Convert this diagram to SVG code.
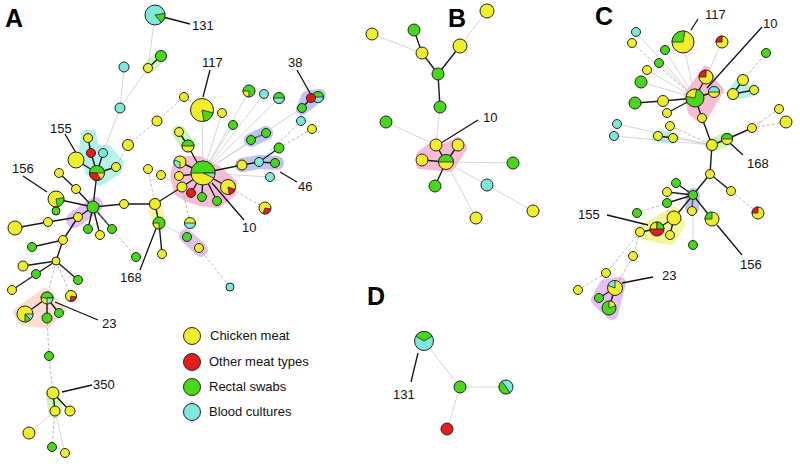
<svg xmlns="http://www.w3.org/2000/svg" width="800" height="470" viewBox="0 0 800 470">
<style>
.n{stroke:#222;stroke-width:1}
.w{stroke:#222;stroke-width:0.8}
.o{fill:none;stroke:#222;stroke-width:1}
.y{fill:#eeee2a}
.r{fill:#e81c1c}
.g{fill:#48d81a}
.c{fill:#80e8d8}
.e{stroke:#1a1a1a;stroke-width:1.4;fill:none}
.l{stroke:#cccccc;stroke-width:0.8;fill:none}
.d{stroke:#a8a8a8;stroke-width:0.8;stroke-dasharray:3 2;fill:none}
.ld{stroke:#111;stroke-width:1.3;fill:none}
.gl{stroke-linejoin:round;stroke-linecap:round;opacity:0.75}
.pk{fill:#f6a8c8;stroke:#f6a8c8}
.cy{fill:#9ceee4;stroke:#9ceee4}
.bl{fill:#aab0ec;stroke:#aab0ec}
.pu{fill:#dcaaf0;stroke:#dcaaf0}
.gr{fill:#bcf4a0;stroke:#bcf4a0}
.ye{fill:#f2f27c;stroke:#f2f27c}
.sa{fill:#fad2c4;stroke:#fad2c4}
.lab{font-family:"Liberation Sans",Arial,sans-serif;font-size:13px;fill:#111}
.pl{font-family:"Liberation Sans",Arial,sans-serif;font-size:25px;font-weight:900;fill:#000}
.lg{font-family:"Liberation Sans",Arial,sans-serif;font-size:13px;fill:#111}
</style>
<rect width="800" height="470" fill="#fff"/>

<g id="glows">
<path class="gl pk" stroke-width="8" d="M178 160 L200 160 L218 170 L233 183 L232 193 L218 204 L200 202 L188 198 L178 192 L174 176 Z"/>
<path class="gl cy" stroke-width="6" d="M84 133 L93 133 L96 148 L108 148 L121 163 L118 172 L100 183 L88 172 L82 150 Z"/>
<path class="gl bl" stroke-width="12" d="M307 97 L320 95 L302 109 Z"/>
<path class="gl bl" stroke-width="14" fill="none" d="M251 140 L266 133"/>
<path class="gl bl" stroke-width="14" fill="none" d="M242 165 L259 162 L277 163"/>
<path class="gl pu" stroke-width="16" fill="none" d="M74 220 L95 205"/>
<path class="gl pu" stroke-width="14" fill="none" d="M186 236 L201 250"/>
<path class="gl gr" stroke-width="14" fill="none" d="M179 132 L188 146"/>
<path class="gl gr" stroke-width="12" fill="none" d="M148 68 L161 56"/>
<path class="gl gr" stroke-width="14" fill="none" d="M53 393 L55 411"/>
<path class="gl ye" stroke-width="14" fill="none" d="M155 204 L159 223"/>
<path class="gl sa" stroke-width="8" d="M17 312 L45 292 L62 310 L47 324 L22 322 Z"/>
<path class="gl pk" stroke-width="8" d="M420 155 L436 143 L440 150 L458 141 L463 148 L450 168 L420 165 Z"/>
<path class="gl pk" stroke-width="8" d="M706 70 L714 84 L720 90 L702 120 L692 112 L688 95 Z"/>
<path class="gl cy" stroke-width="12" fill="none" d="M743 80 L733 94 L754 90"/>
<path class="gl gr" stroke-width="14" fill="none" d="M712 145 L727 139"/>
<path class="gl cy" stroke-width="12" fill="none" d="M658 136 L673 138"/>
<path class="gl bl" stroke-width="14" fill="none" d="M693 195 L692 208"/>
<path class="gl ye" stroke-width="10" d="M638 232 L674 212 L680 225 L670 240 L650 236 Z"/>
<path class="gl pu" stroke-width="12" d="M605 285 L620 283 L612 314 L597 300 Z"/>
</g>

<g id="connectors">
<path class="e" d="M161 56L148 68M203 173L180 162M203 173L179 176M203 173L182 187M203 173L191 193M203 173L202 197M203 173L217 201M203 173L228 187M203 173L242 165M203 173L188 146M188 146L179 132M242 165L259 162M259 162L275 163M259 162L279 148M251 140L266 133M312 97L317 97M312 97L302 108M182 187L155 204M155 204L124 204M124 204L93 207M155 204L159 223M159 223L162 254M93 207L97 173M97 173L91 153M97 173L103 153M97 173L116 167M97 173L76 160M91 153L88 138M93 207L76 189M76 189L59 173M93 207L56 199M56 199L56 211M93 207L78 217M78 217L48 222M48 222L15 228M93 207L88 229M93 207L100 235M93 207L112 229M78 217L63 240M63 240L32 247M63 240L56 261M56 261L23 266M56 261L36 274M56 261L78 280M56 261L12 290M47 298L25 314M47 298L47 318M47 298L59 313M53 393L55 411M53 393L70 411"/>
<path class="l" d="M203 173L202 110M203 173L222 113M203 173L233 125M203 173L249 91M203 173L264 94M203 173L279 98M203 173L302 108M203 173L251 140M203 173L270 177M155 15L148 68M124 67L120 108M148 68L120 108M120 108L103 153M159 223L187 237M187 237L199 248M161 175L182 187M55 411L29 433M55 411L65 453"/>
<path class="d" d="M202 110L184 97M184 97L157 121M157 121L128 145M128 145L116 167M301 121L259 162M312 129L279 148M148 169L155 204M190 223L182 187M265 208L228 187M199 248L230 287M93 207L136 257M56 261L47 298M56 261L71 296M47 318L49 356M49 356L53 393M55 411L52 447"/>
<path class="e" d="M414 30L422 53M422 53L438 74M460 46L438 74M438 74L440 107M446 162L436 145M446 162L458 145M446 162L422 160M446 162L435 186"/>
<path class="l" d="M487 11L460 46M372 34L422 53M440 107L436 145M386 122L436 145M446 162L513 163M446 162L487 185M487 185L533 211M446 162L476 218"/>
<path class="e" d="M695 98L663 101M663 101L635 103M695 98L667 113M695 98L706 77M695 98L714 92M695 98L702 118M702 118L712 145M712 145L727 139M727 139L752 128M733 94L754 90M733 94L743 80M658 136L673 138M712 145L710 174M710 174L693 195M710 174L731 191M693 195L676 183M693 195L667 192M693 195L667 203M693 195L692 211M693 195L712 219M693 195L674 218M674 218L657 229M674 218L670 235M657 229L640 232M615 288L599 298M615 288L609 308"/>
<path class="l" d="M695 98L683 42M695 98L636 32M695 98L665 50M695 98L659 63M695 98L647 70M695 98L641 82M706 77L722 42M714 92L733 94M617 124L712 145M614 136L712 145M673 138L712 145M693 195L693 245"/>
<path class="d" d="M695 98L632 43M743 80L766 53M752 128L779 109M752 128L786 122M670 126L712 145M731 191L758 213M637 213L667 203M633 256L615 288M640 232L633 256M640 232L606 273M606 273L578 290"/>
<path class="l" d="M424 341L460 387M460 387L506 387M460 387L447 429"/>
</g>

<g id="leaders">
<path class="ld" d="M163 17L190 24M210 70L203 97M297 70L310 93M65 134L76 153M23 176L47 192M280 172L297 182M212 183L244 220M140 270L157 226M55 302L98 320M62 392L92 385M478 120L441 143M698 19L691 30M762 27L707 88M730 143L743 155M607 215L648 225M717 225L742 255M653 277L622 283M418 353L411 382"/>
</g>

<g id="panelA">
<g id="a131"><circle class="n c" cx="155" cy="15" r="10"/><path class="w g" d="M155 15L164.85 13.26A10 10 0 0 1 161.43 22.66Z"/></g>
<g id="a-g1"><circle class="n g" cx="161" cy="56" r="5.5"/></g>
<g id="a-y1"><circle class="n y" cx="148" cy="68" r="4.5"/></g>
<g id="a-c1"><circle class="n c" cx="124" cy="67" r="5"/></g>
<g id="a-c2"><circle class="n c" cx="120" cy="108" r="5"/></g>
<g id="a-y2"><circle class="n y" cx="184" cy="97" r="4.5"/></g>
<g id="a-y3"><circle class="n y" cx="157" cy="121" r="5"/></g>
<g id="a-y4"><circle class="n y" cx="128" cy="145" r="5.5"/></g>
<g id="a117"><circle class="n y" cx="202" cy="110" r="11.5"/><path class="w g" d="M202 110L213.11 112.98A11.5 11.5 0 0 1 204 121.33Z"/></g>
<g id="a-y5"><circle class="n y" cx="222" cy="113" r="4.5"/></g>
<g id="a-g2"><circle class="n g" cx="233" cy="125" r="4.5"/></g>
<g id="a-p1"><circle class="n g" cx="249" cy="91" r="6"/><path class="w y" d="M249 91L249 97A6 6 0 0 1 243 91Z"/></g>
<g id="a-c3"><circle class="n c" cx="264" cy="94" r="4.5"/></g>
<g id="a-p2"><circle class="n g" cx="279" cy="98" r="5.5"/><path class="w c" d="M284.5 98A5.5 5.5 0 0 1 273.5 98Z"/></g>
<g id="a38"><circle class="n g" cx="318" cy="97" r="5.5"/><path class="w c" d="M323.5 97A5.5 5.5 0 0 1 312.5 97Z"/><circle class="n r" cx="311" cy="98" r="4.5"/></g>
<g id="a-g3"><circle class="n g" cx="302" cy="108" r="4.5"/></g>
<g id="a-c4"><circle class="n c" cx="301" cy="121" r="4.5"/></g>
<g id="a-y6"><circle class="n y" cx="312" cy="129" r="4.5"/></g>
<g id="a-g4"><circle class="n g" cx="266" cy="133" r="4.5"/></g>
<g id="a-g5"><circle class="n g" cx="251" cy="140" r="4.5"/></g>
<g id="a-g6"><circle class="n g" cx="279" cy="148" r="5"/></g>
<g id="a-y7"><circle class="n y" cx="242" cy="165" r="5"/></g>
<g id="a46"><circle class="n c" cx="259" cy="162" r="4.5"/></g>
<g id="a-g7"><circle class="n g" cx="275" cy="163" r="4.5"/></g>
<g id="a-c5"><circle class="n c" cx="270" cy="177" r="4.5"/></g>
<g id="a-p3"><circle class="n y" cx="228" cy="187" r="7.5"/><path class="w r" d="M228 187L235.05 189.57A7.5 7.5 0 0 1 229.3 194.39Z"/></g>
<g id="a-p4"><circle class="n y" cx="265" cy="208" r="6"/><path class="w r" d="M265 208L270.91 209.04A6 6 0 0 1 262.95 213.64Z"/></g>
<g id="a-g8"><circle class="n g" cx="202" cy="197" r="4.5"/></g>
<g id="a-g9"><circle class="n g" cx="217" cy="201" r="4.5"/></g>
<g id="a-r1"><circle class="n r" cx="191" cy="193" r="4.5"/></g>
<g id="a-y8"><circle class="n y" cx="182" cy="187" r="5"/></g>
<g id="a-y9"><circle class="n y" cx="179" cy="176" r="4.5"/></g>
<g id="a-p5"><circle class="n y" cx="180" cy="162" r="6"/><path class="w c" d="M180 162L180 168A6 6 0 0 1 174.36 159.95Z"/></g>
<g id="a10"><circle class="n y" cx="203" cy="173" r="12"/><path class="w g" d="M191 173A12 12 0 0 1 215 173Z"/><path class="w c" d="M203 173L215 173A12 12 0 0 1 213.87 178.08Z"/></g>
<g id="a-y10"><circle class="n y" cx="179" cy="132" r="4.5"/></g>
<g id="a-p6"><circle class="n y" cx="188" cy="146" r="6"/><path class="w g" d="M182 146A6 6 0 0 1 194 146Z"/></g>
<g id="a-p7"><circle class="n y" cx="190" cy="223" r="5.5"/><path class="w c" d="M195.5 223A5.5 5.5 0 0 1 184.5 223Z"/></g>
<g id="a-g10"><circle class="n g" cx="187" cy="237" r="4.5"/></g>
<g id="a-y11"><circle class="n y" cx="199" cy="248" r="4.5"/></g>
<g id="a-c6"><circle class="n c" cx="230" cy="287" r="4"/></g>
<g id="a-y12"><circle class="n y" cx="148" cy="169" r="4.5"/></g>
<g id="a-y13"><circle class="n y" cx="161" cy="175" r="4.5"/></g>
<g id="a-y168t"><circle class="n y" cx="155" cy="204" r="5.5"/></g>
<g id="a168"><circle class="n g" cx="159" cy="223" r="6"/><path class="w y" d="M159 223L159 229A6 6 0 0 1 153 223Z"/></g>
<g id="a-y14"><circle class="n y" cx="162" cy="254" r="4.5"/></g>
<g id="a-g11"><circle class="n g" cx="136" cy="257" r="4.5"/></g>
<g id="a-y15"><circle class="n y" cx="124" cy="204" r="4.5"/></g>
<g id="a-hub"><circle class="n g" cx="93" cy="207" r="6"/></g>
<g id="a155"><circle class="n y" cx="76" cy="160" r="8"/></g>
<g id="a-y16"><circle class="n y" cx="88" cy="138" r="4.5"/></g>
<g id="a-r2"><circle class="n r" cx="91" cy="153" r="4.5"/></g>
<g id="a-c7"><circle class="n c" cx="103" cy="153" r="4.5"/></g>
<g id="a-p8"><circle class="n y" cx="97" cy="173" r="7.5"/><path class="w g" d="M89.5 173A7.5 7.5 0 0 1 104.5 173Z"/><path class="w r" d="M97 173L100.75 179.5A7.5 7.5 0 0 1 89.5 173Z"/></g>
<g id="a-y17"><circle class="n y" cx="116" cy="167" r="4.5"/></g>
<g id="a156"><circle class="n y" cx="56" cy="199" r="8"/><path class="w g" d="M56 199L63.88 197.61A8 8 0 0 1 57.39 206.88Z"/></g>
<g id="a-g12"><circle class="n g" cx="56" cy="211" r="4"/></g>
<g id="a-y18"><circle class="n y" cx="59" cy="173" r="4.5"/></g>
<g id="a-y19"><circle class="n y" cx="76" cy="189" r="4.5"/></g>
<g id="a-y20"><circle class="n y" cx="78" cy="217" r="4.5"/></g>
<g id="a-y21"><circle class="n y" cx="15" cy="228" r="7"/></g>
<g id="a-y22"><circle class="n y" cx="48" cy="222" r="4.5"/></g>
<g id="a-g13"><circle class="n g" cx="88" cy="229" r="4.5"/></g>
<g id="a-y23"><circle class="n y" cx="100" cy="235" r="4.5"/></g>
<g id="a-g14"><circle class="n g" cx="112" cy="229" r="4.5"/></g>
<g id="a-y24"><circle class="n y" cx="63" cy="240" r="4.5"/></g>
<g id="a-g15"><circle class="n g" cx="32" cy="247" r="4.5"/></g>
<g id="a-y25"><circle class="n y" cx="56" cy="261" r="4"/></g>
<g id="a-y26"><circle class="n y" cx="23" cy="266" r="5"/></g>
<g id="a-g16"><circle class="n g" cx="36" cy="274" r="4.5"/></g>
<g id="a-g17"><circle class="n g" cx="78" cy="280" r="4.5"/></g>
<g id="a-y27"><circle class="n y" cx="12" cy="290" r="4.5"/></g>
<g id="a-p9"><circle class="n y" cx="71" cy="296" r="5.5"/><path class="w r" d="M71 296L76.42 296.96A5.5 5.5 0 0 1 70.04 301.42Z"/></g>
<g id="a23"><circle class="n y" cx="47" cy="298" r="6"/><path class="w g" d="M41 298A6 6 0 0 1 53 298Z"/><path class="w c" d="M47 298L53 298A6 6 0 0 1 47 304Z"/></g>
<g id="a-p10"><circle class="n y" cx="25" cy="314" r="8"/><path class="w c" d="M25 314L33 314A8 8 0 0 1 30.66 319.66Z"/><path class="w g" d="M25 314L30.66 319.66A8 8 0 0 1 25 322Z"/></g>
<g id="a-g18"><circle class="n g" cx="47" cy="318" r="5"/></g>
<g id="a-g19"><circle class="n g" cx="59" cy="313" r="4.5"/></g>
<g id="a-g20"><circle class="n g" cx="49" cy="356" r="4.5"/></g>
<g id="a350"><circle class="n y" cx="53" cy="393" r="6"/></g>
<g id="a-y28"><circle class="n y" cx="55" cy="411" r="5"/></g>
<g id="a-y29"><circle class="n y" cx="70" cy="411" r="5"/></g>
<g id="a-y30"><circle class="n y" cx="29" cy="433" r="6"/></g>
<g id="a-g21"><circle class="n g" cx="52" cy="447" r="4.5"/></g>
<g id="a-y31"><circle class="n y" cx="65" cy="453" r="4.5"/></g>
</g>

<g id="panelB">
<g id="b1"><circle class="n y" cx="487" cy="11" r="7"/></g>
<g id="b2"><circle class="n y" cx="372" cy="34" r="6"/></g>
<g id="b3"><circle class="n g" cx="414" cy="30" r="6"/></g>
<g id="b4"><circle class="n y" cx="422" cy="53" r="6"/></g>
<g id="b5"><circle class="n y" cx="460" cy="46" r="7"/></g>
<g id="b6"><circle class="n g" cx="438" cy="74" r="6"/></g>
<g id="b7"><circle class="n g" cx="440" cy="107" r="6"/></g>
<g id="b8"><circle class="n g" cx="386" cy="122" r="6"/></g>
<g id="b9"><circle class="n y" cx="436" cy="145" r="6"/></g>
<g id="b10"><circle class="n y" cx="458" cy="145" r="6"/></g>
<g id="b11"><circle class="n y" cx="422" cy="160" r="6"/></g>
<g id="b-hub"><circle class="n y" cx="446" cy="162" r="7.5"/><path class="w g" d="M438.5 162A7.5 7.5 0 0 1 453.5 162Z"/></g>
<g id="b12"><circle class="n g" cx="435" cy="186" r="6"/></g>
<g id="b13"><circle class="n c" cx="487" cy="185" r="6"/></g>
<g id="b14"><circle class="n g" cx="513" cy="163" r="6"/></g>
<g id="b15"><circle class="n y" cx="476" cy="218" r="6"/></g>
<g id="b16"><circle class="n y" cx="533" cy="211" r="6"/></g>
</g>

<g id="panelC">
<g id="c1"><circle class="n c" cx="636" cy="32" r="4.5"/></g>
<g id="c2"><circle class="n y" cx="632" cy="43" r="4.5"/></g>
<g id="c117"><circle class="n y" cx="683" cy="42" r="11"/><path class="w g" d="M683 42L672 42A11 11 0 0 1 684.91 31.17Z"/></g>
<g id="c3"><circle class="n y" cx="722" cy="42" r="6"/><path class="w r" d="M722 42L716 42A6 6 0 0 1 722 36Z"/></g>
<g id="c4"><circle class="n g" cx="665" cy="50" r="4.5"/></g>
<g id="c5"><circle class="n g" cx="766" cy="53" r="4.5"/></g>
<g id="c6"><circle class="n g" cx="659" cy="63" r="4.5"/></g>
<g id="c7"><circle class="n y" cx="647" cy="70" r="4.5"/></g>
<g id="c8"><circle class="n y" cx="706" cy="77" r="7"/><path class="w r" d="M706 77L699 77A7 7 0 0 1 706 70Z"/></g>
<g id="c9"><circle class="n g" cx="641" cy="82" r="6"/></g>
<g id="c10"><circle class="n y" cx="743" cy="80" r="5.5"/></g>
<g id="c11"><circle class="n y" cx="714" cy="92" r="5.5"/><path class="w c" d="M708.5 92A5.5 5.5 0 0 1 719.5 92Z"/></g>
<g id="c12"><circle class="n y" cx="733" cy="94" r="5.5"/></g>
<g id="c13"><circle class="n y" cx="754" cy="90" r="4.5"/></g>
<g id="c10hub"><circle class="n g" cx="695" cy="98" r="9"/><path class="w y" d="M695 98L686.14 96.44A9 9 0 0 1 696.56 89.14Z"/></g>
<g id="c14"><circle class="n g" cx="635" cy="103" r="6"/></g>
<g id="c15"><circle class="n y" cx="663" cy="101" r="5.5"/></g>
<g id="c16"><circle class="n y" cx="667" cy="113" r="4.5"/></g>
<g id="c17"><circle class="n y" cx="702" cy="118" r="4.5"/></g>
<g id="c18"><circle class="n y" cx="670" cy="126" r="4.5"/></g>
<g id="c19"><circle class="n y" cx="779" cy="109" r="4.5"/></g>
<g id="c20"><circle class="n y" cx="786" cy="122" r="6"/></g>
<g id="c21"><circle class="n y" cx="752" cy="128" r="4.5"/></g>
<g id="c22"><circle class="n c" cx="617" cy="124" r="4.5"/></g>
<g id="c23c"><circle class="n c" cx="614" cy="136" r="4.5"/></g>
<g id="c24"><circle class="n y" cx="658" cy="136" r="4.5"/></g>
<g id="c25"><circle class="n y" cx="673" cy="138" r="4.5"/></g>
<g id="c26"><circle class="n y" cx="712" cy="145" r="5.5"/></g>
<g id="c168"><circle class="n y" cx="727" cy="139" r="5.5"/><path class="w g" d="M721.5 139A5.5 5.5 0 0 1 732.5 139Z"/></g>
<g id="c27"><circle class="n y" cx="710" cy="174" r="4.5"/></g>
<g id="c28"><circle class="n g" cx="676" cy="183" r="4.5"/></g>
<g id="c29"><circle class="n y" cx="731" cy="191" r="4.5"/></g>
<g id="c30"><circle class="n y" cx="667" cy="192" r="4.5"/></g>
<g id="c-hub2"><circle class="n g" cx="693" cy="195" r="4.5"/></g>
<g id="c31"><circle class="n g" cx="667" cy="203" r="4.5"/></g>
<g id="c32"><circle class="n g" cx="637" cy="213" r="4.5"/></g>
<g id="c33"><circle class="n y" cx="674" cy="218" r="7"/></g>
<g id="c34"><circle class="n y" cx="692" cy="211" r="4.5"/></g>
<g id="c156"><circle class="n y" cx="712" cy="219" r="7"/><path class="w g" d="M712 219L705 219A7 7 0 0 1 712 212Z"/></g>
<g id="c155"><circle class="n r" cx="657" cy="229" r="7"/><path class="w y" d="M657 229L650 229A7 7 0 0 1 657 222Z"/><path class="w g" d="M657 229L657 222A7 7 0 0 1 664 229Z"/></g>
<g id="c35"><circle class="n y" cx="640" cy="232" r="4.5"/></g>
<g id="c36"><circle class="n y" cx="670" cy="235" r="4.5"/></g>
<g id="c37"><circle class="n y" cx="758" cy="213" r="6"/><path class="w r" d="M758 213L752 213A6 6 0 0 1 758 207Z"/></g>
<g id="c38"><circle class="n g" cx="693" cy="245" r="4.5"/></g>
<g id="c39"><circle class="n y" cx="633" cy="256" r="4.5"/></g>
<g id="c40"><circle class="n y" cx="606" cy="273" r="4.5"/></g>
<g id="c41"><circle class="n y" cx="578" cy="290" r="4.5"/></g>
<g id="c23"><circle class="n y" cx="615" cy="288" r="7.5"/><path class="w c" d="M615 288L607.95 285.43A7.5 7.5 0 0 1 615 280.5Z"/></g>
<g id="c42"><circle class="n g" cx="599" cy="298" r="4.5"/></g>
<g id="c43"><circle class="n g" cx="609" cy="308" r="7"/><path class="w y" d="M609 308L609 301A7 7 0 0 1 615.58 305.61Z"/></g>
</g>

<g id="panelD">
<g id="d131"><circle class="n c" cx="424" cy="341" r="9.5"/><path class="w g" d="M424 341L415.77 336.25A9.5 9.5 0 0 1 432.23 336.25Z"/></g>
<g id="d1"><circle class="n g" cx="460" cy="387" r="6"/></g>
<g id="d2"><circle class="n c" cx="506" cy="387" r="7"/><path class="w g" d="M510.02 392.73A7 7 0 0 1 501.98 381.27Z"/></g>
<g id="d3"><circle class="n r" cx="447" cy="429" r="6"/></g>
</g>

<g id="legend">
<circle class="n y" cx="192" cy="336" r="8.5"/>
<circle class="n r" cx="192" cy="362" r="8.5"/>
<circle class="n g" cx="192" cy="387" r="8.5"/>
<circle class="n c" cx="192" cy="412" r="8.5"/>
<text class="lg" x="210" y="340">Chicken meat</text>
<text class="lg" x="209" y="366">Other meat types</text>
<text class="lg" x="209" y="391">Rectal swabs</text>
<text class="lg" x="209" y="416">Blood cultures</text>
</g>

<g id="labels">
<text class="pl" x="5" y="27">A</text>
<text class="pl" x="448" y="27">B</text>
<text class="pl" x="595" y="25">C</text>
<text class="pl" x="367" y="305">D</text>
<text class="lab" x="192" y="30">131</text>
<text class="lab" x="202" y="67">117</text>
<text class="lab" x="288" y="67">38</text>
<text class="lab" x="50" y="133">155</text>
<text class="lab" x="12" y="173">156</text>
<text class="lab" x="298" y="191">46</text>
<text class="lab" x="242" y="232">10</text>
<text class="lab" x="120" y="282">168</text>
<text class="lab" x="102" y="328">23</text>
<text class="lab" x="93" y="389">350</text>
<text class="lab" x="483" y="122">10</text>
<text class="lab" x="705" y="19">117</text>
<text class="lab" x="763" y="28">10</text>
<text class="lab" x="747" y="168">168</text>
<text class="lab" x="578" y="219">155</text>
<text class="lab" x="740" y="269">156</text>
<text class="lab" x="662" y="280">23</text>
<text class="lab" x="393" y="399">131</text>
</g>
</svg>
